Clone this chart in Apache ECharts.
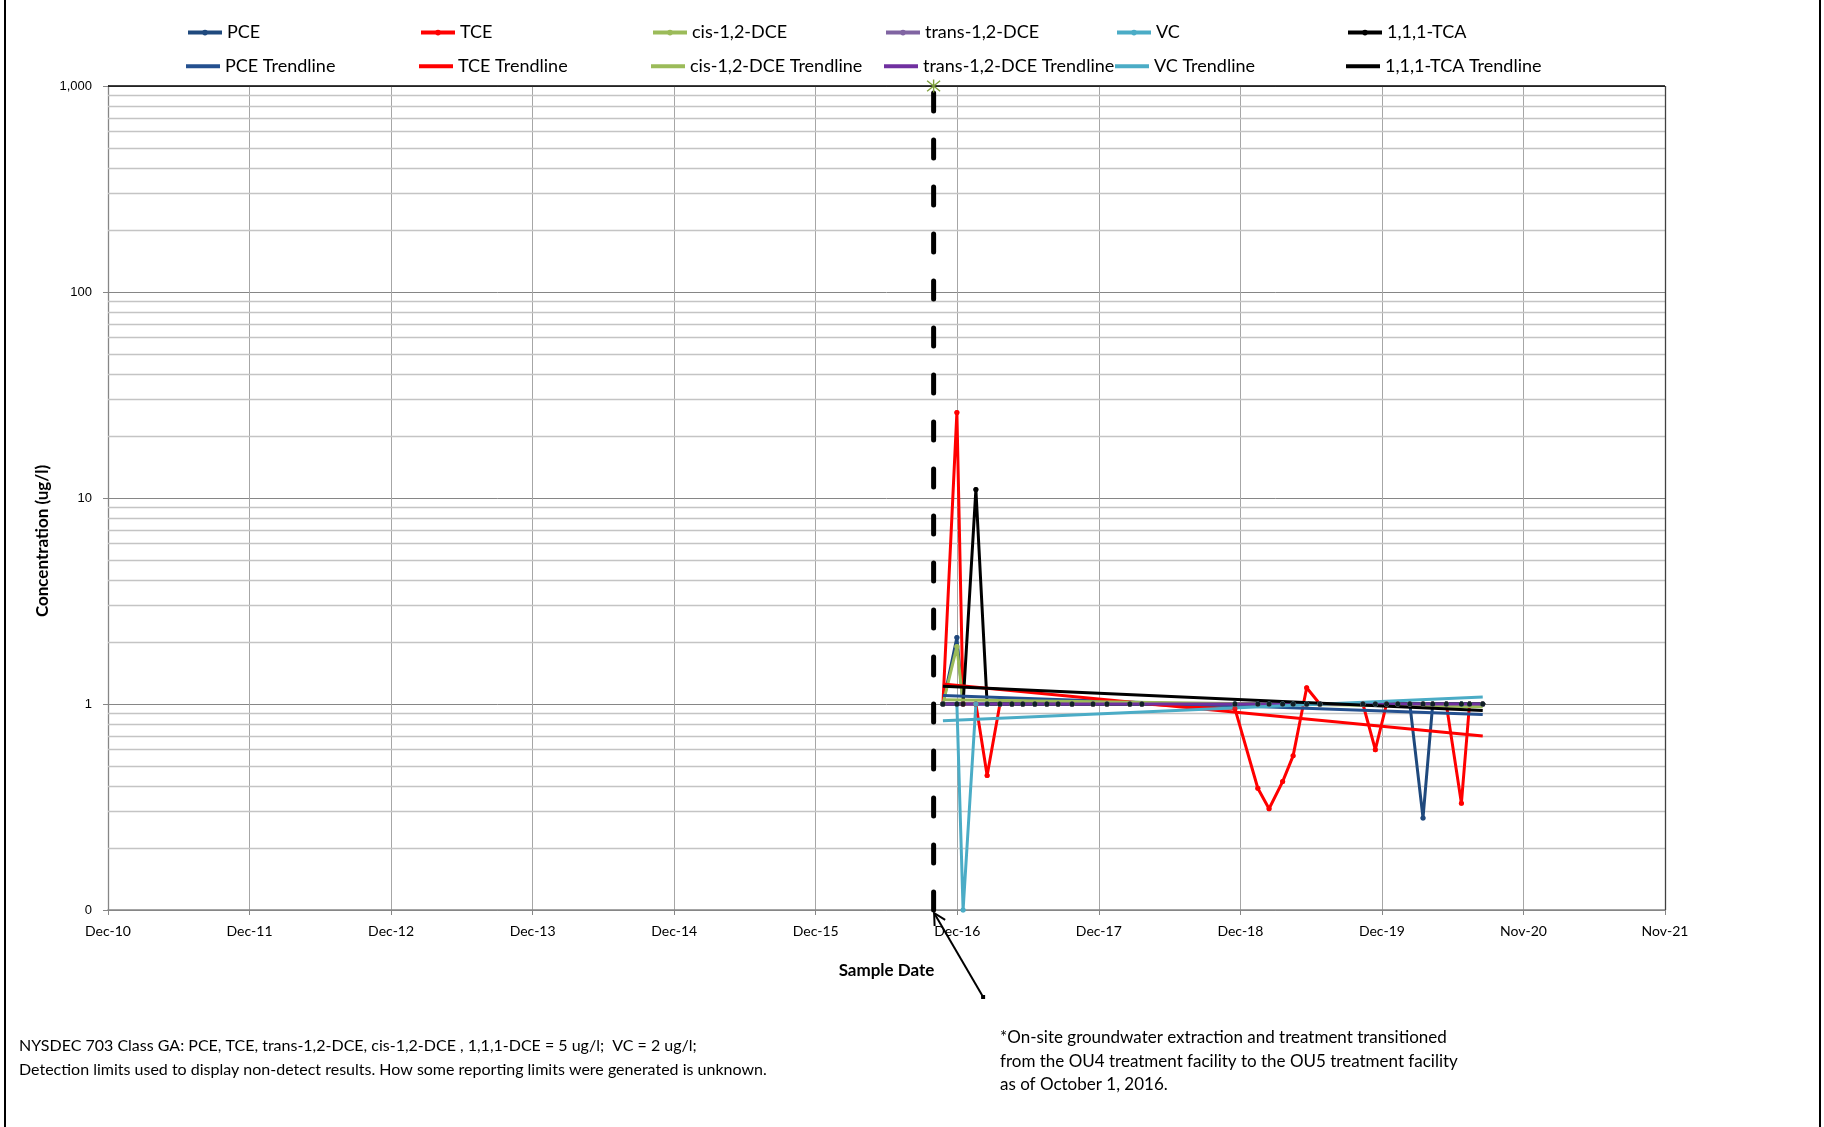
<!DOCTYPE html>
<html>
<head>
<meta charset="utf-8">
<script src="https://cdn.jsdelivr.net/npm/echarts@6/dist/echarts.min.js"></script>
<style>
html,body{margin:0;padding:0;background:#ffffff;}
#chart{width:1824px;height:1127px;}
</style>
</head>
<body>
<div id="chart"></div>
<script>
// ---------------- DATA ----------------
const sampleDates = ['2016-10-25','2016-11-30','2016-12-16','2017-01-18','2017-02-16','2017-03-21','2017-04-21','2017-05-19','2017-06-19','2017-07-20',
  '2017-08-18','2017-09-23','2017-11-16','2017-12-22','2018-02-19','2018-03-22','2018-11-17','2019-01-15','2019-02-13','2019-03-20',
  '2019-04-16','2019-05-21','2019-06-24','2019-10-13','2019-11-14','2019-12-13','2020-01-11','2020-02-11','2020-03-16','2020-04-10',
  '2020-05-15','2020-06-23','2020-07-14','2020-08-17'];

const PCE   = [1,2.1,1,1,1,1,1,1,1,1, 1,1,1,1,1,1,1,1,1,1, 1,1,1,1,1,1,1,1,0.28,1, 1,1,1,1];
const TCE   = [1,26,1,1,0.45,1,1,1,1,1, 1,1,1,1,1,1,0.95,0.39,0.31,0.42, 0.56,1.2,1,1,0.6,1,1,1,1,1, 1,0.33,1,1];
const cisDCE   = [1,1.9,1,1,1,1,1,1,1,1, 1,1,1,1,1,1,1,1,1,1, 1,1,1,1,1,1,1,1,1,1, 1,1,1,1];
const transDCE = [1,1,1,1,1,1,1,1,1,1, 1,1,1,1,1,1,1,1,1,1, 1,1,1,1,1,1,1,1,1,1, 1,1,1,1];
const VC    = [1,1,0.1,1,1,1,1,1,1,1, 1,1,1,1,1,1,1,1,1,1, 1,1,1,1,1,1,1,1,1,1, 1,1,1,1];
const TCA   = [1,1,1,11,1,1,1,1,1,1, 1,1,1,1,1,1,1,1,1,1, 1,1,1,1,1,1,1,1,1,1, 1,1,1,1];

// trendlines (start / end values at first and last sample date)
const trendDates = ['2016-10-25','2020-08-17'];
const PCE_trend   = [1.10, 0.89];
const TCE_trend   = [1.25, 0.70];
const cis_trend   = [1.05, 0.97];
const trans_trend = [1.00, 1.00];
const VC_trend    = [0.83, 1.08];
const TCA_trend   = [1.22, 0.93];

// transition marker (Oct 1, 2016)
const transitionDate = '2016-10-01';
const transitionRange = [0.1, 1000];

// axes
const axisStartDate = '2010-12-03';
const xTickLabels = ['Dec-10','Dec-11','Dec-12','Dec-13','Dec-14','Dec-15','Dec-16','Dec-17','Dec-18','Dec-19','Nov-20','Nov-21'];
const xStepDays = 365;
const yTickValues = [0.1, 1, 10, 100, 1000];
const yTickLabels = ['0', '1', '10', '100', '1,000'];

// ---------------- HELPERS ----------------
const DAY = 86400000;
function utc(s){ const p = s.split('-').map(Number); return Date.UTC(p[0], p[1]-1, p[2]); }
const ORIGIN = utc(axisStartDate);
function dayOffset(s){ return (utc(s) - ORIGIN) / DAY; }
function pairs(dates, vals){ return dates.map((d,i)=>[dayOffset(d), vals[i]]); }

const minorGrid = [];
for (let e = -1; e < 3; e++) { for (let k = 2; k <= 9; k++) minorGrid.push(+(k * Math.pow(10, e)).toPrecision(3)); }

const FONT = 'Lato, "Liberation Sans", sans-serif';
const xMax = xStepDays * (xTickLabels.length - 1);

const dataDefs = [
  {name:'PCE', vals:PCE, color:'#1F497D'},
  {name:'TCE', vals:TCE, color:'#FF0000'},
  {name:'cis-1,2-DCE', vals:cisDCE, color:'#9BBB59'},
  {name:'trans-1,2-DCE', vals:transDCE, color:'#8064A2'},
  {name:'VC', vals:VC, color:'#4BACC6'},
  {name:'1,1,1-TCA', vals:TCA, color:'#000000'}
];
const trendDefs = [
  {name:'PCE Trendline', vals:PCE_trend, color:'#24508F'},
  {name:'TCE Trendline', vals:TCE_trend, color:'#FF0000'},
  {name:'cis-1,2-DCE Trendline', vals:cis_trend, color:'#9BBB59'},
  {name:'trans-1,2-DCE Trendline', vals:trans_trend, color:'#7030A0'},
  {name:'VC Trendline', vals:VC_trend, color:'#4BACC6'},
  {name:'1,1,1-TCA Trendline', vals:TCA_trend, color:'#000000'}
];

const series = [];
// helper series for minor gridlines and plot frame lines
series.push({
  type:'line', name:'_grid', data:[], silent:true, z:1,
  markLine:{
    silent:true, z:1, symbol:['none','none'], animation:false,
    label:{show:false},
    lineStyle:{color:'#C4C4C4', width:1.3, type:'solid'},
    emphasis:{disabled:true},
    data: minorGrid.map(v=>({yAxis:v})).concat([
      {yAxis:1000, lineStyle:{color:'#000000', width:1.5, type:'solid'}},
      {xAxis:xMax, lineStyle:{color:'#404040', width:1.3, type:'solid'}}
    ])
  }
});
// transition dashed line
const tOff = dayOffset(transitionDate);
series.push({
  type:'line', name:'_transition', z:2, silent:true,
  data:[
    {value:[tOff, transitionRange[0]], symbol:'none'},
    {value:[tOff, transitionRange[1]], symbol:'path://M5,0L5,10M1,1L9,9M9,1L1,9', symbolSize:13,
      itemStyle:{color:'rgba(0,0,0,0)', borderColor:'#7FA03C', borderWidth:1.4}}
  ],
  lineStyle:{color:'#000000', width:5, type:[18,29], cap:'round'},
  clip:false
});
dataDefs.forEach(d=>{
  series.push({
    type:'line', name:d.name, data:pairs(sampleDates, d.vals), z:2,
    symbol:'circle', symbolSize:5, showSymbol:true,
    itemStyle:{color:d.color}, lineStyle:{color:d.color, width:3},
    emphasis:{disabled:true}
  });
});
trendDefs.forEach(d=>{
  series.push({
    type:'line', name:d.name, data:pairs(trendDates, d.vals), z:3,
    symbol:'none', itemStyle:{color:d.color}, lineStyle:{color:d.color, width:3},
    emphasis:{disabled:true}
  });
});
dataDefs.forEach(d=>{
  series.push({
    type:'scatter', name:d.name, data:pairs(sampleDates, d.vals), z:4,
    symbol:'circle', symbolSize:5, itemStyle:{color:d.color}, silent:true
  });
});

// legends: one per cell (data series on top row, trendline underneath)
const colLeft = [186, 419, 651, 884, 1115, 1346];
const rowTop = [22.6, 56.3];
const legends = [];
colLeft.forEach((x,i)=>{
  legends.push({
    left:x, top:rowTop[0], padding:0, itemWidth:34, itemHeight:7, itemGap:0,
    data:[dataDefs[i].name],
    lineStyle:{width:4}, itemStyle:{borderWidth:0},
    textStyle:{fontFamily:FONT, fontSize:18, color:'#000', lineHeight:20},
    selectedMode:false
  });
  legends.push({
    left:x, top:rowTop[1], padding:0, itemWidth:34, itemHeight:4, itemGap:0,
    data:[{name:trendDefs[i].name, icon:'rect'}],
    textStyle:{fontFamily:FONT, fontSize:18, color:'#000', lineHeight:20},
    selectedMode:false
  });
});

const staticGraphic = [
  {type:'line', shape:{x1:5, y1:0, x2:5, y2:1127}, style:{stroke:'#000', lineWidth:2}, silent:true},
  {type:'line', shape:{x1:1820, y1:0, x2:1820, y2:1127}, style:{stroke:'#000', lineWidth:2}, silent:true},
  {type:'text', x:43, y:541, rotation:Math.PI/2, silent:true,
    style:{text:'Concentration (ug/l)', font:'bold 17px ' + FONT, fill:'#000', textAlign:'center', textVerticalAlign:'middle'}},
  {type:'text', x:19, y:1046, silent:true,
    style:{text:'NYSDEC 703 Class GA: PCE, TCE, trans-1,2-DCE, cis-1,2-DCE , 1,1,1-DCE = 5 ug/l;  VC = 2 ug/l;', font:'16px ' + FONT, fill:'#000', textAlign:'left', textVerticalAlign:'middle'}},
  {type:'text', x:19, y:1070, silent:true,
    style:{text:'Detection limits used to display non-detect results. How some reporting limits were generated is unknown.', font:'16px ' + FONT, fill:'#000', textAlign:'left', textVerticalAlign:'middle'}},
  {type:'text', x:1000, y:1037.5, silent:true,
    style:{text:'*On-site groundwater extraction and treatment transitioned', font:'17px ' + FONT, fill:'#000', textAlign:'left', textVerticalAlign:'middle'}},
  {type:'text', x:1000, y:1062, silent:true,
    style:{text:'from the OU4 treatment facility to the OU5 treatment facility', font:'17px ' + FONT, fill:'#000', textAlign:'left', textVerticalAlign:'middle'}},
  {type:'text', x:1000, y:1085, silent:true,
    style:{text:'as of October 1, 2016.', font:'17px ' + FONT, fill:'#000', textAlign:'left', textVerticalAlign:'middle'}}
];

const option = {
  animation:false,
  backgroundColor:'#ffffff',
  grid:{left:108, top:86, right:159, bottom:217, containLabel:false},
  legend: legends,
  xAxis:{
    type:'value', min:0, max:xMax, interval:xStepDays,
    axisLine:{show:true, onZero:false, lineStyle:{color:'#868686', width:1.5}},
    axisTick:{show:true, length:5, lineStyle:{color:'#868686'}},
    axisLabel:{fontFamily:FONT, fontSize:14, color:'#000', margin:14, showMinLabel:true, showMaxLabel:true,
      formatter:function(v){ return xTickLabels[Math.round(v / xStepDays)] || ''; }},
    splitLine:{show:true, lineStyle:{color:'#A6A6A6', width:1}},
    name:'Sample Date', nameLocation:'middle', nameGap:52,
    nameTextStyle:{fontFamily:FONT, fontSize:17, fontWeight:'bold', color:'#000'}
  },
  yAxis:{
    type:'log', logBase:10, min:yTickValues[0], max:yTickValues[yTickValues.length-1],
    axisLine:{show:true, lineStyle:{color:'#868686', width:1.3}},
    axisTick:{show:true, length:5, lineStyle:{color:'#868686'}},
    axisLabel:{fontFamily:'"Liberation Sans", Arial, sans-serif', fontSize:13, color:'#000', margin:16,
      formatter:function(v){
        let best = 0;
        yTickValues.forEach((t,i)=>{ if (Math.abs(Math.log10(t) - Math.log10(v)) < Math.abs(Math.log10(yTickValues[best]) - Math.log10(v))) best = i; });
        return yTickLabels[best];
      }},
    splitLine:{show:true, lineStyle:{color:'#868686', width:1}}
  },
  series: series,
  graphic: staticGraphic
};

const chart = echarts.init(document.getElementById('chart'), null, {renderer:'canvas'});
chart.setOption(option);

// annotation arrow pointing to the base of the transition line
const base = chart.convertToPixel({xAxisIndex:0, yAxisIndex:0}, [tOff, transitionRange[0]]);
const head = [base[0] + 0.5, base[1] + 3];
const tail = [head[0] + 49, head[1] + 84];
const ux = (tail[0]-head[0]), uy = (tail[1]-head[1]);
const len = Math.sqrt(ux*ux + uy*uy);
const bx = ux/len, by = uy/len;
const ang = 28 * Math.PI / 180, L = 13;
function rot(x, y, a){ return [x*Math.cos(a) - y*Math.sin(a), x*Math.sin(a) + y*Math.cos(a)]; }
const w1 = rot(bx, by, ang), w2 = rot(bx, by, -ang);
const arrowGraphic = [
  {type:'line', silent:true, shape:{x1:tail[0], y1:tail[1], x2:head[0], y2:head[1]}, style:{stroke:'#000', lineWidth:2}},
  {type:'polyline', silent:true, shape:{points:[[head[0]+w1[0]*L, head[1]+w1[1]*L], head, [head[0]+w2[0]*L, head[1]+w2[1]*L]]},
    style:{stroke:'#000', lineWidth:2, fill:null}},
  {type:'rect', silent:true, shape:{x:tail[0]-2, y:tail[1]-2, width:4, height:4}, style:{fill:'#000'}}
];
chart.setOption({graphic: staticGraphic.concat(arrowGraphic)});
</script>
</body>
</html>
